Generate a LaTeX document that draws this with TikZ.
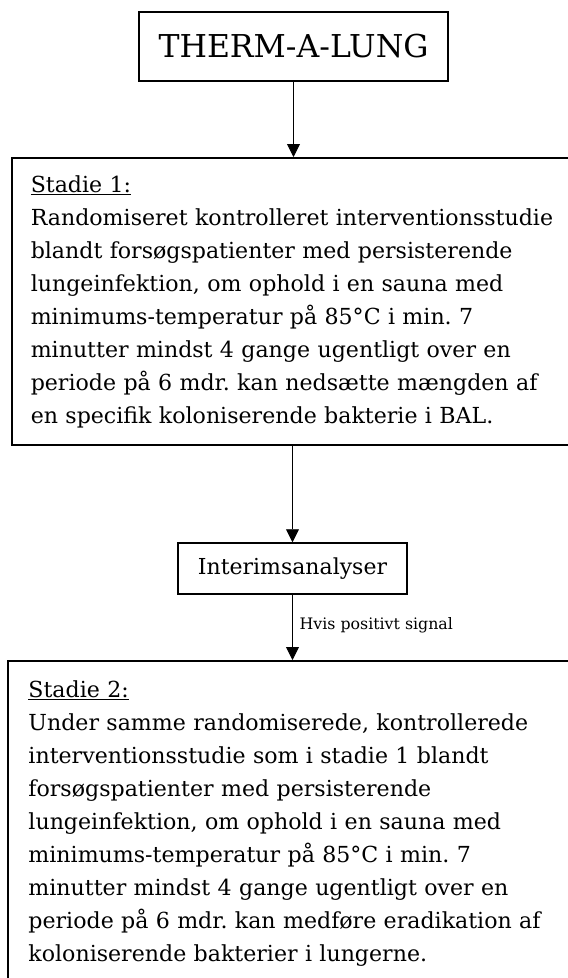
\documentclass[tikz,border=0pt]{standalone}
\usepackage{fontspec}
\setmainfont{DejaVu Serif}
\usepackage{tikz}
\usetikzlibrary{arrows.meta, positioning}
\frenchspacing

\begin{document}
\begin{tikzpicture}[x=1pt, y=-1pt, >={Triangle[width=13pt, length=13pt]},
        box/.style={draw, line width=1.5pt, rectangle},
        stadiebox/.style={box, anchor=north west, align=left, text width=560pt, inner xsep=19pt, inner ysep=17.5pt, font=\fontsize{22.1}{33}\selectfont},
        flow/.style={->, line width=0.9pt}]
        \useasboundingbox (0,0) rectangle (568,978);
        \clip (0,0) rectangle (568,978);

        \node[box, minimum width=309pt, minimum height=69pt, font=\fontsize{31.5}{36}\selectfont] (title) at (293.5,46.5) {THERM-A-LUNG};
        \node[stadiebox] (stadieA) at (11,157) {\underline{Stadie 1:}\\
            Randomiseret kontrolleret interventionsstudie\\
            blandt forsøgspatienter med persisterende\\
            lungeinfektion, om ophold i en sauna med\\
            minimums-temperatur på 85°C i min. 7\\
            minutter mindst 4 gange ugentligt over en\\
            periode på 6 mdr. kan nedsætte mængden af\\
            en specifik koloniserende bakterie i BAL.};
        \node[box, minimum width=229pt, minimum height=51pt, font=\fontsize{22}{26}\selectfont] (interim) at (292.5,568.5) {Interimsanalyser};
        \node[stadiebox, inner xsep=20.4pt, inner ysep=20pt] (stadieB) at (7.3,660) {\underline{Stadie 2:}\\
            Under samme randomiserede, kontrollerede\\
            interventionsstudie som i stadie 1 blandt\\
            forsøgspatienter med persisterende\\
            lungeinfektion, om ophold i en sauna med\\
            minimums-temperatur på 85°C i min. 7\\
            minutter mindst 4 gange ugentligt over en\\
            periode på 6 mdr. kan medføre eradikation af\\
            koloniserende bakterier i lungerne.};

        \path
            (title.south) edge[flow] (title.south |- stadieA.north)
            (interim.north |- stadieA.south) edge[flow] (interim.north)
            (interim.south) edge[flow] node[pos=0.535, anchor=base west, inner sep=0pt, xshift=6.7pt, font=\fontsize{15.8}{18}\selectfont] {Hvis positivt signal} (interim.south |- stadieB.north);
    \end{tikzpicture}
\end{document}
